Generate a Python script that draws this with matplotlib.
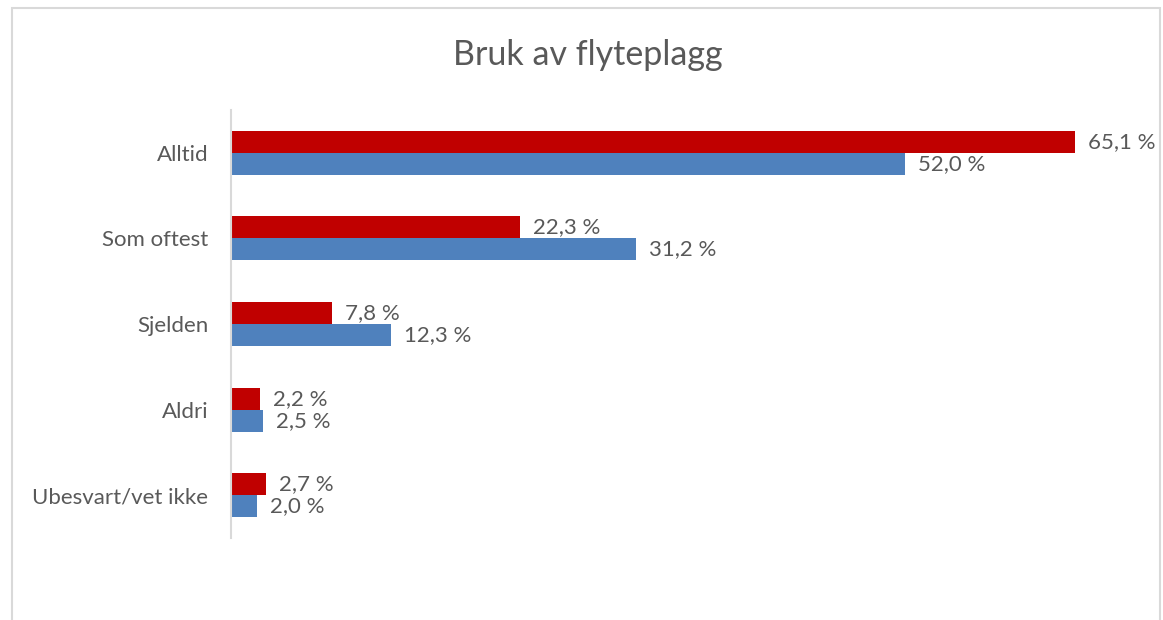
import matplotlib.pyplot as plt
import matplotlib.patches as mpatches
import numpy as np

#%% data
categories = ['Alltid', 'Som oftest', 'Sjelden', 'Aldri', 'Ubesvart/vet ikke']
red_vals = [65.1, 22.3, 7.8, 2.2, 2.7]
blue_vals = [52.0, 31.2, 12.3, 2.5, 2.0]

red = '#C00000'
blue = '#4F81BD'
txtcol = '#595959'
plt.rcParams['font.family'] = ['Lato', 'DejaVu Sans']

#%% figure
fig = plt.figure(figsize=(11.63, 6.2), dpi=100)
W, H = 1163, 620

# chart-area border
fig.patches.append(mpatches.Rectangle((12 / W, -0.05), (1160 - 12) / W, (620 - 8) / H + 0.05,
                                      transform=fig.transFigure, fill=False,
                                      edgecolor='#D9D9D9', linewidth=1.5))

ax_l, ax_r = 231, 1100
ax_top, ax_bot = 110, 538
ax = fig.add_axes([ax_l / W, (H - ax_bot) / H, (ax_r - ax_l) / W, (ax_bot - ax_top) / H])

y = np.arange(len(categories))
h = 0.257
ax.barh(y - h / 2, red_vals, height=h, color=red)
ax.barh(y + h / 2, blue_vals, height=h, color=blue)

xmax = (ax_r - ax_l) / 12.97
ax.set_xlim(0, xmax)
ax.set_ylim(len(categories) - 0.5, -0.5)

pad = 13 / 12.97
for i in range(len(categories)):
    ax.text(red_vals[i] + pad, y[i] - h / 2, '{:.1f} %'.format(red_vals[i]).replace('.', ','),
            va='center', ha='left', fontsize=16, color=txtcol)
    ax.text(blue_vals[i] + pad, y[i] + h / 2, '{:.1f} %'.format(blue_vals[i]).replace('.', ','),
            va='center', ha='left', fontsize=16, color=txtcol)

ax.set_yticks(y)
ax.set_yticklabels(categories, fontsize=16, color=txtcol)
ax.tick_params(axis='y', length=0, pad=16.5)
ax.set_xticks([])
for s in ['top', 'right', 'bottom']:
    ax.spines[s].set_visible(False)
ax.spines['left'].set_color('#D9D9D9')
ax.spines['left'].set_linewidth(1.5)

fig.text(588 / W, 1 - 55 / H, 'Bruk av flyteplagg', ha='center', va='center',
         fontsize=24.5, color=txtcol)

plt.savefig('out.png', dpi=100)
